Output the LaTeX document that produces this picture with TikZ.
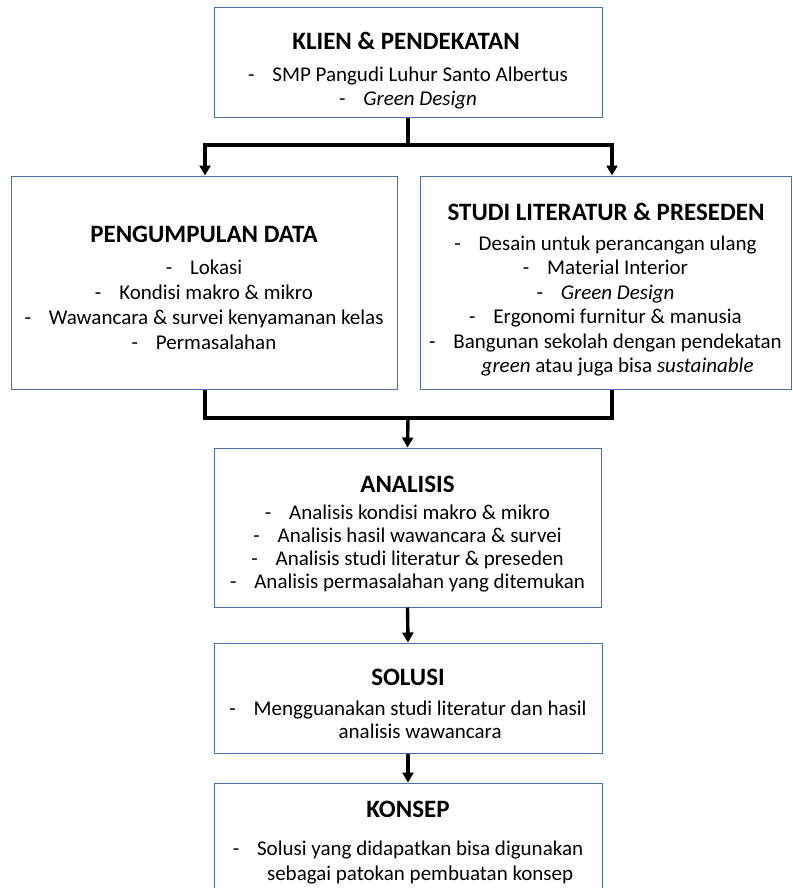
\documentclass[tikz,border=0pt]{standalone}
\usepackage{fontspec}
\setmainfont{Carlito}
\usetikzlibrary{arrows.meta}
\definecolor{boxblue}{HTML}{4A6FA5}
\newcommand\itm[1]{-\hspace{0.85em}#1}
\tikzset{
  box/.style={draw=boxblue, line width=1pt, rectangle, inner sep=0pt},
  ttl/.style={anchor=base, inner sep=0pt, font=\fontsize{25}{30}\selectfont\bfseries},
  body/.style={anchor=base, inner sep=0pt, align=center},
  conn/.style={line width=3.4pt, draw=black},
  arr/.style={conn, -{Triangle[width=11pt,length=10pt]}}
}
\begin{document}
\begin{tikzpicture}[x=1pt,y=-1pt]
\useasboundingbox (0,0) rectangle (792,888);
\clip (0,0) rectangle (792,888);
% boxes
\node[box, minimum width=388pt, minimum height=110pt] (klien) at (408,63) {};
\node[box, minimum width=386pt, minimum height=213pt] (data) at (204,282.5) {};
\node[box, minimum width=371pt, minimum height=213pt] (studi) at (605.5,282.5) {};
\node[box, minimum width=387pt, minimum height=159pt] (anal) at (407.5,527.5) {};
\node[box, minimum width=388pt, minimum height=110pt] (solusi) at (408,698) {};
\node[box, minimum width=388pt, minimum height=140pt] (konsep) at (408,853) {};
% texts
\node[ttl] (klienT) at (406,49.5) {KLIEN \& PENDEKATAN};
\node[body] (klienB) at (408,82) {\fontsize{21}{23.5}\selectfont
  \begin{tabular}[t]{@{}c@{}}\itm{SMP Pangudi Luhur Santo Albertus}\\ \itm{\textit{Green Design}}\end{tabular}};

\node[ttl] (dataT) at (204,242) {PENGUMPULAN DATA};
\node[body] (dataB) at (204,274) {\fontsize{21}{25}\selectfont
  \begin{tabular}[t]{@{}c@{}}\itm{Lokasi}\\ \itm{Kondisi makro \& mikro}\\ \itm{Wawancara \& survei kenyamanan kelas}\\ \itm{Permasalahan}\end{tabular}};

\node[ttl] (studiT) at (606,220) {STUDI LITERATUR \& PRESEDEN};
\node[body] (studiB) at (605.5,250) {\fontsize{21}{24.5}\selectfont
  \begin{tabular}[t]{@{}c@{}}\itm{Desain untuk perancangan ulang}\\ \itm{Material Interior}\\ \itm{\textit{Green Design}}\\ \itm{Ergonomi furnitur \& manusia}\\
  \begin{tabular}[t]{@{}l@{\hspace{0.85em}}c@{}}-&Bangunan sekolah dengan pendekatan\\ &\textit{green} atau juga bisa \textit{sustainable}\end{tabular}\end{tabular}};

\node[ttl] (analT) at (407.5,492) {ANALISIS};
\node[body] (analB) at (407.5,519) {\fontsize{21}{23.3}\selectfont
  \begin{tabular}[t]{@{}c@{}}\itm{Analisis kondisi makro \& mikro}\\ \itm{Analisis hasil wawancara \& survei}\\ \itm{Analisis studi literatur \& preseden}\\ \itm{Analisis permasalahan yang ditemukan}\end{tabular}};

\node[ttl] (solusiT) at (408,685) {SOLUSI};
\node[body] (solusiB) at (408,715) {\fontsize{21}{23.5}\selectfont
  \begin{tabular}[t]{@{}l@{\hspace{0.85em}}c@{}}-&Mengguanakan studi literatur dan hasil\\ &analisis wawancara\end{tabular}};

\node[ttl] (konsepT) at (408,817) {KONSEP};
\node[body] (konsepB) at (408,855) {\fontsize{21}{25}\selectfont
  \begin{tabular}[t]{@{}l@{\hspace{0.85em}}c@{}}-&Solusi yang didapatkan bisa digunakan\\ &sebagai patokan pembuatan konsep\end{tabular}};
% connectors
\coordinate (split) at (408,145);
\coordinate (join) at (408,418);
\draw[conn] (klien.south) -- (split);
\draw[arr] (split) -| ([xshift=1pt]data.north);
\draw[arr] (split) -| ([xshift=6.5pt]studi.north);
\draw[conn] ([xshift=1pt]data.south) |- (join);
\draw[conn] ([xshift=6.5pt]studi.south) |- (join);
\draw[arr] (join) -- (anal.north);
\draw[arr] (anal.south) -- (solusi.north);
\draw[arr] (solusi.south) -- (konsep.north);
\end{tikzpicture}
\end{document}
